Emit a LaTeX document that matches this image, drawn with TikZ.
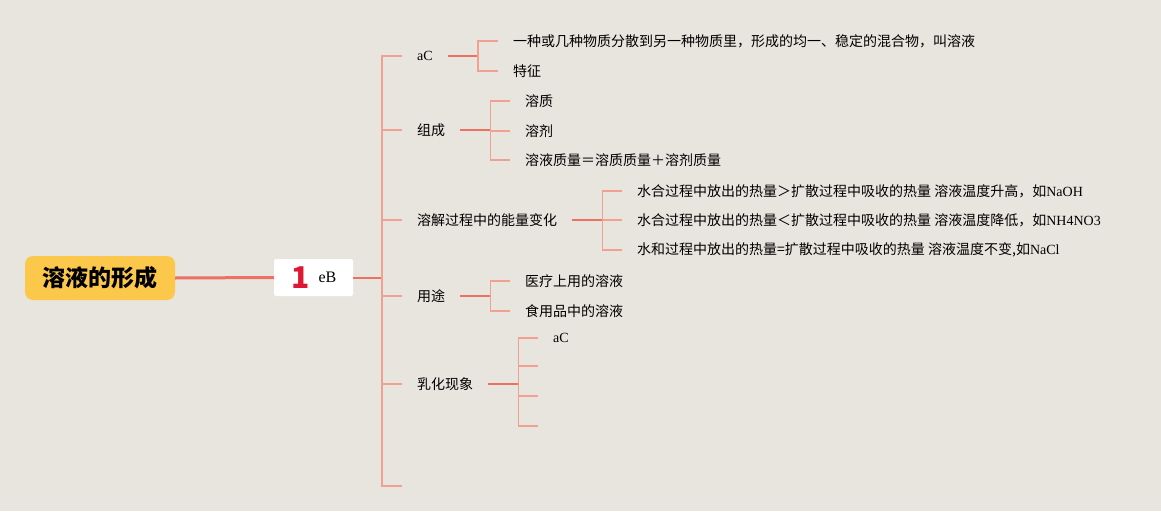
\documentclass[tikz,border=0pt]{standalone}
\usepackage{fontspec}
\setmainfont{Liberation Serif}
\newfontfamily\cjk{Noto Sans CJK SC}
\usetikzlibrary{positioning}
\definecolor{paper}{RGB}{232,229,222}
\definecolor{rootfill}{RGB}{252,200,75}
\definecolor{linedark}{RGB}{238,112,98}
\definecolor{linelight}{RGB}{242,160,145}
\definecolor{numred}{RGB}{222,24,52}
\newcommand{\lat}[1]{{\rmfamily\fontspec{Liberation Serif}#1}}

\begin{document}
\begin{tikzpicture}[x=1pt, y=-1pt,
  rootbox/.style={draw=none, fill=rootfill, rounded corners=8pt, minimum width=150pt, minimum height=44pt, font=\fontsize{23}{25}\selectfont\cjk\bfseries},
  mainbox/.style={fill=white, rounded corners=2pt, minimum width=79pt, minimum height=37pt, inner sep=0pt},
  topic/.style={anchor=west, inner xsep=15pt, inner ysep=2pt, font=\fontsize{14}{16}\selectfont\cjk},
  leaf/.style={anchor=west, inner xsep=15pt, inner ysep=2pt, font=\fontsize{14}{16}\selectfont\cjk},
  thickline/.style={draw=linedark, line width=3pt},
  stem/.style={draw=linedark, line width=2pt},
  branch/.style={draw=linelight, line width=1.6pt},
]
\fill[paper] (0,0) rectangle (1161,511);
\useasboundingbox (0,0) rectangle (1161,511);

% --- root and main topic ---
\node[rootbox] (root) at (100,278) {溶液的形成};
\node[mainbox] (main) at (313.5,277.5) {};
\node[inner sep=0pt, font=\fontsize{30}{30}\selectfont\cjk\bfseries, text=numred] (num) at (301,278) {1};
\node[inner sep=0pt, font=\fontsize{16}{18}\selectfont] (mainlbl) at (327.5,277) {eB};
\draw[thickline] (root.east) -- (main.west);

% --- level 2 ---
\node[topic] (def) at (402,56) {\lat{aC}};
\node[topic] (comp) at (402,130) {组成};
\node[topic] (heat) at (402,220) {溶解过程中的能量变化};
\node[topic] (use) at (402,296) {用途};
\node[topic] (emul) at (402,384) {乳化现象};
\coordinate (last) at (402,486);

\draw[stem] (main.east) -- ++(29,0) coordinate (trunk);
\foreach \t in {def,comp,heat,use,emul,last}
  \draw[branch] (trunk) |- (\t.west);

% --- definition ---
\node[leaf] (def1) at (498,41) {一种或几种物质分散到另一种物质里，形成的均一、稳定的混合物，叫溶液};
\node[leaf] (def2) at (498,71) {特征};
\draw[stem] (def.east) -- ++(30,0) coordinate (defbar);
\foreach \t in {def1,def2}
  \draw[branch] (defbar) |- (\t.west);

% --- composition ---
\node[leaf] (comp1) at (510,101) {溶质};
\node[leaf] (comp2) at (510,131) {溶剂};
\node[leaf] (comp3) at (510,160) {溶液质量＝溶质质量＋溶剂质量};
\draw[stem] (comp.east) -- ++(30,0) coordinate (compbar);
\foreach \t in {comp1,comp2,comp3}
  \draw[branch] (compbar) |- (\t.west);

% --- heat of solution ---
\node[leaf] (heat1) at (622,191) {水合过程中放出的热量＞扩散过程中吸收的热量 溶液温度升高，如\lat{NaOH}};
\node[leaf] (heat2) at (622,220) {水合过程中放出的热量＜扩散过程中吸收的热量 溶液温度降低，如\lat{NH4NO3}};
\node[leaf] (heat3) at (622,250) {水和过程中放出的热量=扩散过程中吸收的热量 溶液温度不变,如\lat{NaCl}};
\draw[stem] (heat.east) -- ++(30,0) coordinate (heatbar);
\foreach \t in {heat1,heat2,heat3}
  \draw[branch] (heatbar) |- (\t.west);

% --- uses ---
\node[leaf] (use1) at (510,281) {医疗上用的溶液};
\node[leaf] (use2) at (510,311) {食用品中的溶液};
\draw[stem] (use.east) -- ++(30,0) coordinate (usebar);
\foreach \t in {use1,use2}
  \draw[branch] (usebar) |- (\t.west);

% --- emulsion ---
\node[leaf] (emul1) at (538,338) {\lat{aC}};
\coordinate (emul2) at (538,366);
\coordinate (emul3) at (538,396);
\coordinate (emul4) at (538,426);
\draw[stem] (emul.east) -- ++(30,0) coordinate (emulbar);
\draw[branch] (emulbar) |- (emul1.west);
\foreach \t in {emul2,emul3,emul4}
  \draw[branch] (emulbar) |- (\t);
\end{tikzpicture}
\end{document}
